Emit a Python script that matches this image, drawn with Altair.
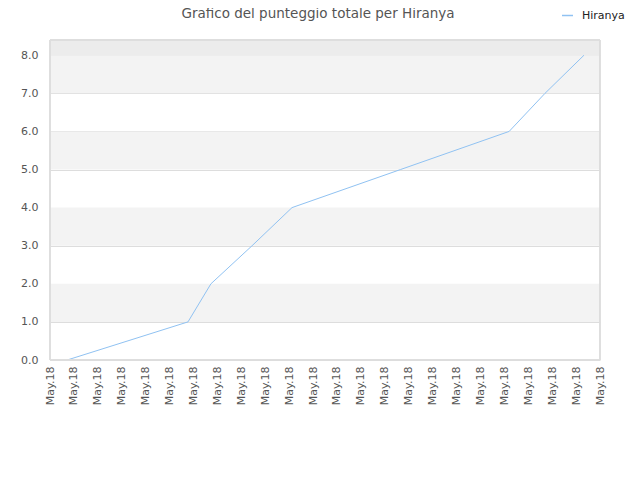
import altair as alt
import pandas as pd

# data: time index (tick units along x axis) and total score
times = [0.72, 5.77, 6.73, 8.45, 10.12, 14.66, 19.2, 20.7, 22.33]
scores = [0, 1, 2, 3, 4, 5, 6, 7, 8]
series_name = "Hiranya"
tick_positions = list(range(24))
tick_label = "May.18"
y_ticks = [0, 1, 2, 3, 4, 5, 6, 7, 8]
band_lo = [1, 3, 5, 7, 8]
band_hi = [2, 4, 6, 8, 8.4]
band_col = ["#f3f3f3", "#f3f3f3", "#f3f3f3", "#f3f3f3", "#ececec"]

df = pd.DataFrame({"t": times, "score": scores, "serie": series_name})
bands = pd.DataFrame({"lo": band_lo, "hi": band_hi, "c": band_col})

FONT = "DejaVu Sans"
xscale = alt.Scale(domain=[0, 23], nice=False, zero=False)
yscale = alt.Scale(domain=[0, 8.4], nice=False)

yaxis = alt.Axis(
    title=None,
    values=y_ticks,
    format=".1f",
    grid=True,
    gridColor="#dddddd",
    ticks=False,
    domain=False,
    labelColor="#555",
    labelFontSize=11,
    labelFont=FONT,
    labelPadding=12,
    labelOverlap=False,
)

band_layer = alt.Chart(bands).mark_rect().encode(
    x=alt.value(0),
    x2=alt.value(550),
    y=alt.Y("lo:Q", scale=yscale, axis=yaxis),
    y2="hi:Q",
    color=alt.Color("c:N", scale=None),
)

frame = alt.Chart(bands).mark_rect(fillOpacity=0, stroke="#dddddd", strokeWidth=1).encode(
    x=alt.value(0),
    x2=alt.value(550),
    y=alt.value(0),
    y2=alt.value(320),
)

line = alt.Chart(df).mark_line(strokeWidth=1, interpolate="linear").encode(
    x=alt.X(
        "t:Q",
        scale=xscale,
        axis=alt.Axis(
            title=None,
            values=tick_positions,
            labelExpr=f"'{tick_label}'",
            labelAngle=-90,
            labelAlign="right",
            labelBaseline="middle",
            grid=False,
            ticks=False,
            domain=False,
            labelColor="#555",
            labelFontSize=11,
            labelFont=FONT,
            labelPadding=6,
            labelOverlap=False,
        ),
    ),
    y=alt.Y("score:Q", scale=yscale, axis=yaxis),
    color=alt.Color(
        "serie:N",
        scale=alt.Scale(range=["#90c2f2"]),
        legend=alt.Legend(
            title=None,
            orient="none",
            legendX=511,
            legendY=-31,
            symbolType="stroke",
            symbolSize=120,
            symbolStrokeWidth=1.5,
            labelFont=FONT,
            labelFontSize=11,
            labelColor="#222",
            labelOffset=8,
        ),
    ),
)

chart = (
    alt.layer(band_layer, line, frame)
    .properties(
        width=550,
        height=320,
        padding={"left": 42, "top": 32, "right": 32, "bottom": 112},
        autosize=alt.AutoSizeParams(type="none"),
        title=alt.TitleParams(
            "Grafico del punteggio totale per Hiranya",
            font=FONT,
            fontSize=13.5,
            fontWeight="normal",
            color="#555",
            anchor="middle",
            frame="group",
            dx=-7,
            offset=-11,
        ),
    )
    .configure_view(stroke=None)
)

chart.save("out.html", embed_options={"renderer": "svg", "actions": False})
